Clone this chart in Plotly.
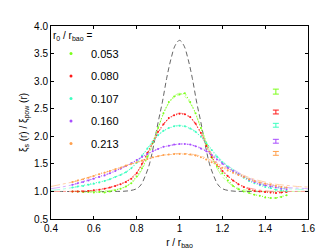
import plotly.graph_objects as go

# ---------------- data ----------------
labels = ["0.053", "0.080", "0.107", "0.160", "0.213"]
colors = ["#7cff1a", "#ff1a1a", "#3dffc0", "#a84dff", "#ffa04d"]
model_colors = ["#c4ff99", "#ff9a9a", "#a8ffe4", "#d8b0ff", "#ffd0a8"]

r_data = [0.500, 0.525, 0.550, 0.575, 0.600, 0.625, 0.650, 0.675, 0.700, 0.725,
          0.750, 0.775, 0.800, 0.825, 0.850, 0.875, 0.900, 0.925, 0.950, 0.975,
          1.000, 1.025, 1.050, 1.075, 1.100, 1.125, 1.150, 1.175, 1.200, 1.225,
          1.250, 1.275, 1.300, 1.325, 1.350, 1.375, 1.400, 1.425, 1.450, 1.475, 1.500]

xi_053 = [1.00, 1.00, 0.99, 0.99, 0.98, 0.99, 0.98, 1.00, 1.02, 1.05,
          1.09, 1.15, 1.27, 1.42, 1.63, 1.88, 2.15, 2.42, 2.62, 2.72,
          2.76, 2.78, 2.62, 2.42, 2.15, 1.85, 1.62, 1.45, 1.33, 1.20,
          1.10, 1.04, 1.00, 0.97, 0.94, 0.92, 0.89, 0.88, 0.88, 0.90, 0.93]
xi_080 = [1.00, 1.00, 1.00, 1.01, 1.02, 1.03, 1.05, 1.07, 1.10, 1.13,
          1.17, 1.23, 1.33, 1.50, 1.70, 1.90, 2.08, 2.22, 2.33, 2.38,
          2.41, 2.40, 2.35, 2.23, 2.06, 1.83, 1.62, 1.48, 1.37, 1.28,
          1.20, 1.13, 1.08, 1.04, 1.01, 1.00, 0.99, 0.98, 0.97, 0.98, 0.99]
xi_107 = [1.07, 1.09, 1.10, 1.12, 1.14, 1.16, 1.19, 1.22, 1.26, 1.30,
          1.35, 1.42, 1.52, 1.65, 1.78, 1.90, 2.02, 2.10, 2.15, 2.18,
          2.19, 2.18, 2.14, 2.08, 1.99, 1.88, 1.75, 1.63, 1.53, 1.45,
          1.38, 1.31, 1.25, 1.19, 1.15, 1.11, 1.08, 1.06, 1.03, 1.02, 1.01]
xi_160 = [1.12, 1.15, 1.17, 1.20, 1.23, 1.26, 1.29, 1.33, 1.37, 1.41,
          1.46, 1.51, 1.57, 1.63, 1.68, 1.73, 1.77, 1.81, 1.83, 1.85,
          1.86, 1.86, 1.85, 1.82, 1.78, 1.73, 1.66, 1.58, 1.50, 1.43,
          1.37, 1.31, 1.26, 1.21, 1.17, 1.13, 1.11, 1.09, 1.07, 1.05, 1.04]
xi_213 = [1.17, 1.20, 1.22, 1.25, 1.28, 1.31, 1.34, 1.37, 1.40, 1.43,
          1.47, 1.50, 1.53, 1.56, 1.59, 1.62, 1.64, 1.66, 1.67, 1.68,
          1.68, 1.68, 1.67, 1.65, 1.62, 1.58, 1.53, 1.48, 1.43, 1.38,
          1.34, 1.30, 1.26, 1.22, 1.19, 1.16, 1.14, 1.12, 1.10, 1.08, 1.07]

r_model = [0.40, 0.45, 0.50, 0.55, 0.60, 0.65, 0.70, 0.75, 0.80, 0.85, 0.90, 0.95,
           1.00, 1.05, 1.10, 1.15, 1.20, 1.25, 1.30, 1.35, 1.40, 1.45, 1.50, 1.55, 1.60]
model_053 = [1.00, 1.00, 1.00, 1.00, 1.00, 1.01, 1.03, 1.09, 1.25, 1.60, 2.15, 2.60,
             2.78, 2.60, 2.15, 1.62, 1.27, 1.10, 1.03, 1.01, 1.00, 1.00, 1.00, 1.00, 1.00]
model_080 = [1.00, 1.00, 1.00, 1.01, 1.02, 1.05, 1.10, 1.18, 1.34, 1.68, 2.06, 2.32,
             2.42, 2.34, 2.06, 1.68, 1.38, 1.20, 1.09, 1.04, 1.01, 1.00, 1.00, 1.00, 1.00]
model_107 = [1.02, 1.04, 1.07, 1.10, 1.14, 1.19, 1.26, 1.35, 1.52, 1.78, 2.02, 2.15,
             2.20, 2.15, 2.00, 1.76, 1.55, 1.40, 1.27, 1.18, 1.11, 1.07, 1.05, 1.04, 1.03]
model_160 = [1.05, 1.08, 1.12, 1.17, 1.23, 1.29, 1.37, 1.46, 1.57, 1.68, 1.77, 1.83,
             1.86, 1.85, 1.79, 1.68, 1.53, 1.40, 1.29, 1.20, 1.14, 1.10, 1.07, 1.06, 1.05]
model_213 = [1.09, 1.13, 1.17, 1.22, 1.28, 1.34, 1.40, 1.47, 1.53, 1.59, 1.64, 1.67,
             1.69, 1.68, 1.64, 1.56, 1.46, 1.37, 1.29, 1.22, 1.17, 1.13, 1.11, 1.09, 1.08]

r_lin = [0.40, 0.70, 0.76, 0.80, 0.82, 0.84, 0.86, 0.88, 0.90, 0.92, 0.94, 0.96, 0.98,
         1.00, 1.02, 1.04, 1.06, 1.08, 1.10, 1.12, 1.14, 1.16, 1.18, 1.20, 1.24, 1.30, 1.60]
xi_lin = [1.00, 1.00, 1.01, 1.05, 1.12, 1.28, 1.50, 1.85, 2.25, 2.62, 3.05, 3.40, 3.65,
          3.74, 3.65, 3.40, 3.05, 2.62, 2.25, 1.85, 1.50, 1.28, 1.12, 1.05, 1.01, 1.00, 1.00]

err_x = [1.45, 1.45, 1.45, 1.45, 1.45]
err_y = [2.81, 2.44, 2.20, 1.91, 1.69]
err_size = [0.045, 0.035, 0.035, 0.035, 0.035]

data_series = [xi_053, xi_080, xi_107, xi_160, xi_213]
model_series = [model_053, model_080, model_107, model_160, model_213]

# ---------------- figure ----------------
fig = go.Figure()

fig.add_trace(go.Scatter(x=r_lin, y=xi_lin, mode="lines", showlegend=False,
                         line=dict(color="#555555", width=0.9, dash="5px,3px"),
                         line_shape="spline"))

for i in range(5):
    fig.add_trace(go.Scatter(x=r_model, y=model_series[i], mode="lines", showlegend=False,
                             line=dict(color=model_colors[i], width=1, dash="dashdot"),
                             line_shape="spline"))

for i in range(5):
    fig.add_trace(go.Scatter(x=r_data, y=data_series[i], mode="lines+markers", showlegend=False,
                             line=dict(color=colors[i], width=1.1, dash="1px,2px"),
                             marker=dict(color=colors[i], size=2)))

for i in range(5):
    fig.add_trace(go.Scatter(x=[err_x[i]], y=[err_y[i]], mode="markers", showlegend=False,
                             marker=dict(size=0.1, color=colors[i]),
                             error_y=dict(type="data", array=[err_size[i]], color=colors[i],
                                          thickness=1, width=3)))

for i in range(5):
    fig.add_trace(go.Scatter(x=[None], y=[None], mode="markers", name=labels[i],
                             legendgroup="g%d" % i,
                             marker=dict(color=colors[i], size=3)))

axis_common = dict(showgrid=False, zeroline=False, showline=True, linecolor="black",
                   linewidth=1, mirror="ticks", ticks="inside", ticklen=3,
                   tickcolor="black", tickfont=dict(size=10, color="black"))

fig.update_layout(
    width=332, height=250,
    margin=dict(l=43, r=32, t=18, b=30),
    paper_bgcolor="white", plot_bgcolor="white",
    font=dict(family="Liberation Sans, Arial, sans-serif", color="black", size=10),
    xaxis=dict(range=[0.4, 1.6], tickvals=[0.4, 0.6, 0.8, 1.0, 1.2, 1.4, 1.6],
               ticktext=["0.4", "0.6", "0.8", "1", "1.2", "1.4", "1.6"],
               title=dict(text="r / r<sub>bao</sub>", standoff=5, font=dict(size=10)),
               **axis_common),
    yaxis=dict(range=[0.5, 4.0], tickvals=[0.5, 1.0, 1.5, 2.0, 2.5, 3.0, 3.5, 4.0],
               ticktext=["0.5", "1.0", "1.5", "2.0", "2.5", "3.0", "3.5", "4.0"],
               title=dict(text="ξ<sub>s</sub> (r) / ξ<sub>pow</sub> (r)", standoff=4,
                          font=dict(size=10)),
               **axis_common),
    legend=dict(x=0.0, y=1.0, xanchor="left", yanchor="top", bgcolor="rgba(0,0,0,0)",
                font=dict(size=11), tracegroupgap=3.5, traceorder="grouped", itemwidth=30,
                title=dict(text="r<sub>0</sub> / r<sub>bao</sub> =", font=dict(size=10))),
)

fig.write_html("out.html")
